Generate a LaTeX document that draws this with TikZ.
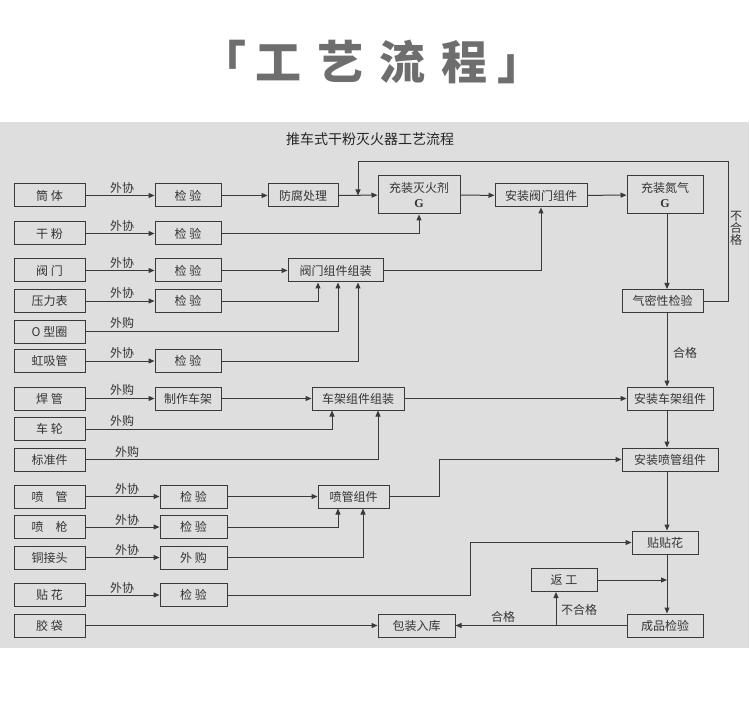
\documentclass[tikz,border=0pt]{standalone}
\usepackage{fontspec}
\setmainfont{Noto Sans CJK SC}
\newfontfamily\latinserif{Liberation Serif}
\usetikzlibrary{arrows.meta}
\definecolor{panel}{HTML}{DEDEDE}
\definecolor{ink}{HTML}{3A3A3A}
\definecolor{headgray}{HTML}{6E6E6E}

\begin{document}
\begin{tikzpicture}[x=1pt,y=1pt,
        box/.style={draw=ink, line width=1pt, inner sep=0pt, minimum height=23pt, text=ink!90!black, font=\fontsize{12}{15}\selectfont},
        src/.style={box, minimum width=71pt},
        chk/.style={box, minimum width=66pt},
        tall/.style={box, minimum height=38pt, align=center},
        lab/.style={inner sep=0pt, text=ink!90!black, font=\fontsize{12}{12}\selectfont},
        link/.style={draw=ink, line width=1pt},
        arr/.style={link, -{Triangle[length=6pt,width=5pt]}}]
        \useasboundingbox (0,0) rectangle (750,-714);
        \fill[panel] (0,-122) rectangle (749,-648);
        % headings
        \node[inner sep=0pt, text=headgray, font=\fontsize{46}{46}\selectfont\bfseries] (head) at (372,-62) {「\hspace{10pt}工\hspace{16pt}艺\hspace{16pt}流\hspace{16pt}程\hspace{10pt}」};
        \node[lab, text=black!85, font=\fontsize{14}{14}\selectfont] (chart) at (370,-139) {推车式干粉灭火器工艺流程};
        % raw parts
        \node[src] (tongti) at (49.5,-195.5) {筒 体};
        \node[src] (ganfen) at (49.5,-233.5) {干 粉};
        \node[src] (famen) at (49.5,-270.5) {阀 门};
        \node[src] (yalibiao) at (49.5,-301) {压力表};
        \node[src] (oxing) at (49.5,-331.5) {O 型圈};
        \node[src] (hongxi) at (49.5,-361) {虹吸管};
        \node[src] (hanguan) at (49.5,-398.5) {焊 管};
        \node[src] (chelun) at (49.5,-429) {车 轮};
        \node[src] (biaozhun) at (49.5,-459.5) {标准件};
        \node[src] (penguan) at (49.5,-496.5) {喷\hspace{12pt}管};
        \node[src] (penqiang) at (49.5,-527) {喷\hspace{12pt}枪};
        \node[src] (tongjie) at (49.5,-557.5) {铜接头};
        \node[src] (tiehua) at (49.5,-595) {贴 花};
        \node[src] (jiaodai) at (49.5,-625.5) {胶 袋};
        % checks
        \node[chk] (jy1) at (188,-195.5) {检 验};
        \node[chk] (jy2) at (188,-233.5) {检 验};
        \node[chk] (jy3) at (188,-270.5) {检 验};
        \node[chk] (jy4) at (188,-301) {检 验};
        \node[chk] (jy6) at (188,-361) {检 验};
        \node[chk] (zhizuo) at (188,-398.5) {制作车架};
        \node[chk, minimum width=67pt] (jy7) at (193.5,-496.5) {检 验};
        \node[chk, minimum width=67pt] (jy8) at (193.5,-527) {检 验};
        \node[chk, minimum width=67pt] (waigou) at (193.5,-557.5) {外 购};
        \node[chk, minimum width=67pt] (jy9) at (193.5,-595) {检 验};
        % assembly
        \node[box, minimum width=70pt] (fangfu) at (303,-195.5) {防腐处理};
        \node[box, minimum width=95pt] (fazu) at (335.5,-270.5) {阀门组件组装};
        \node[tall, minimum width=82pt] (chongmie) at (419,-195) {充装灭火剂\\{\latinserif\bfseries G}};
        \node[box, minimum width=92pt] (anfa) at (541,-195.5) {安装阀门组件};
        \node[tall, minimum width=76pt] (chongdan) at (665,-195) {充装氮气\\{\latinserif\bfseries G}};
        \node[box, minimum width=81pt] (qimi) at (662.5,-301) {气密性检验};
        \node[box, minimum width=92pt] (chejia) at (358,-398.5) {车架组件组装};
        \node[box, minimum width=86pt] (anche) at (670,-398.5) {安装车架组件};
        \node[box, minimum width=96pt] (anpen) at (670,-459.5) {安装喷管组件};
        \node[box, minimum width=71pt] (penzu) at (353.5,-496.5) {喷管组件};
        \node[box, minimum width=66pt] (tietie) at (665,-542.5) {贴贴花};
        \node[box, minimum width=66pt] (fangong) at (564,-580) {返 工};
        \node[box, minimum width=76pt] (chengpin) at (665,-625.5) {成品检验};
        \node[box, minimum width=77pt] (baozhuang) at (416.5,-625.5) {包装入库};
        \coordinate (mainx) at (667,0);
        \coordinate (back) at (358,-195.5);
        \coordinate (split) at (556,-625.5);
        % incoming parts
        \draw[arr] (tongti) -- (jy1);
        \node[lab] (w1) at (122,-187.5) {外协};
        \draw[arr] (ganfen) -- (jy2);
        \node[lab] (w2) at (122,-225.5) {外协};
        \draw[arr] (famen) -- (jy3);
        \node[lab] (w3) at (122,-262.5) {外协};
        \draw[arr] (yalibiao) -- (jy4);
        \node[lab] (w4) at (122,-293) {外协};
        \draw[arr] (oxing.east) -| ([xshift=2.5pt]fazu.south);
        \node[lab] (w5) at (122,-323) {外购};
        \draw[arr] (hongxi) -- (jy6);
        \node[lab] (w6) at (122,-353) {外协};
        \draw[arr] (hanguan) -- (zhizuo);
        \node[lab] (w7) at (122,-390) {外购};
        \draw[arr] (chelun.east) -| ([xshift=-26pt]chejia.south);
        \node[lab] (w8) at (122,-421) {外购};
        \draw[arr] (biaozhun.east) -| ([xshift=20pt]chejia.south);
        \node[lab] (w9) at (127,-452) {外购};
        \draw[arr] (penguan) -- (jy7);
        \node[lab] (w10) at (127,-489) {外协};
        \draw[arr] (penqiang) -- (jy8);
        \node[lab] (w11) at (127,-519.5) {外协};
        \draw[arr] (tongjie) -- (waigou);
        \node[lab] (w12) at (127,-550) {外协};
        \draw[arr] (tiehua) -- (jy9);
        \node[lab] (w13) at (122,-588) {外协};
        \draw[arr] (jiaodai) -- (baozhuang);
        % cylinder line
        \draw[arr] (jy1) -- (fangfu);
        \draw[arr] (fangfu) -- (chongmie);
        \draw[arr] (jy2.east) -| (chongmie.south);
        \draw[arr] (jy3) -- (fazu);
        \draw[arr] (jy4.east) -| ([xshift=-17.5pt]fazu.south);
        \draw[arr] (jy6.east) -| ([xshift=22.5pt]fazu.south);
        \draw[arr] (fazu.east) -| (anfa.south);
        \draw[arr] (chongmie) -- (anfa);
        \draw[arr] (anfa) -- (chongdan);
        \draw[arr] (chongdan.south -| mainx) -- (qimi.north -| mainx);
        \draw[arr] (qimi.east) -- ++(25,0) |- (358,-162) -- (back);
        \node[lab, align=center, font=\fontsize{12}{12}\selectfont] (bad1) at (736,-228) {不\\合\\格};
        \draw[arr] (qimi.south -| mainx) -- (anche.north -| mainx);
        \node[lab] (ok1) at (685,-353) {合格};
        % frame and nozzle
        \draw[arr] (zhizuo) -- (chejia);
        \draw[arr] (chejia) -- (anche);
        \draw[arr] (anche.south -| mainx) -- (anpen.north -| mainx);
        \draw[arr] (jy7) -- (penzu);
        \draw[arr] (jy8.east) -| ([xshift=-15.5pt]penzu.south);
        \draw[arr] (waigou.east) -| ([xshift=9.5pt]penzu.south);
        \draw[arr] (penzu.east) -- ++(50,0) |- (anpen.west);
        \draw[arr] (anpen.south -| mainx) -- (tietie.north -| mainx);
        \draw[arr] (jy9.east) -- ++(243,0) |- (tietie.west);
        % final check
        \draw[arr] (tietie.south -| mainx) -- (chengpin.north -| mainx);
        \draw[arr] (fangong.east) -- (fangong.east -| mainx);
        \draw[arr] (chengpin) -- (baozhuang);
        \draw[arr] (split) -- (split |- fangong.south);
        \node[lab] (bad2) at (579,-610) {不合格};
        \node[lab] (ok2) at (503,-617) {合格};
\end{tikzpicture}
\end{document}
